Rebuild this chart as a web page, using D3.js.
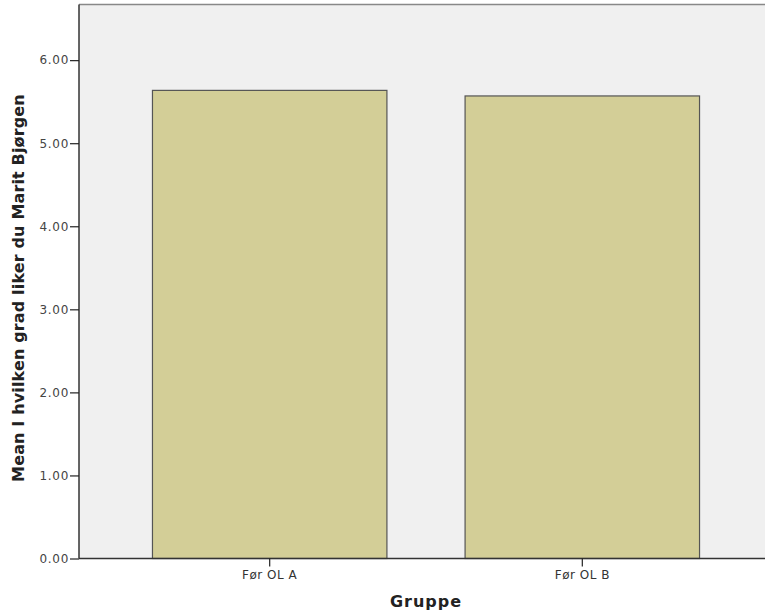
<!DOCTYPE html>
<html><head><meta charset="utf-8">
<script src="https://cdn.jsdelivr.net/npm/d3@7"></script>
<style>body{margin:0;background:#fff;} svg{display:block;}</style>
</head><body>
<svg id="chart" width="765" height="616"></svg>
<script>
const categories = ["Før OL A", "Før OL B"];
const meanValues = [5.636, 5.569];
const yTicks = [0, 1, 2, 3, 4, 5, 6];
const yTitle = "Mean I hvilken grad liker du Marit Bjørgen";
const xTitle = "Gruppe";

(function () {
const svg = d3.select("#chart");
const pL = 79, pR = 773, pT = 4.5, pB = 558.5;
const x = d3.scaleBand().domain(categories).range([pL, pR]).paddingInner(0.25).paddingOuter(0.235);
const y = d3.scaleLinear().domain([0, 6.67]).range([pB, pT]);

svg.append("rect").attr("x", pL).attr("y", pT).attr("width", 765 - pL).attr("height", pB - pT)
  .attr("fill", "#f0f0f0");
svg.append("line").attr("x1", pL).attr("x2", 765).attr("y1", pT).attr("y2", pT)
  .attr("stroke", "#888").attr("stroke-width", 1.5);

svg.selectAll("rect.bar").data(categories).enter().append("rect").attr("class", "bar")
  .attr("x", d => x(d)).attr("width", x.bandwidth())
  .attr("y", (d, i) => y(meanValues[i])).attr("height", (d, i) => y(0) - y(meanValues[i]))
  .attr("fill", "#d3ce97").attr("stroke", "#555").attr("stroke-width", 1.2);

const yAxis = svg.append("g").attr("transform", `translate(${pL},0)`)
  .call(d3.axisLeft(y).tickValues(yTicks).tickFormat(d3.format(".2f")).tickSize(9).tickSizeOuter(0));
yAxis.select(".domain").attr("d", `M0,${pT}V${pB}`).attr("stroke", "#333").attr("stroke-width", 1.5);
yAxis.selectAll(".tick line").attr("stroke", "#222").attr("stroke-width", 1.2);
yAxis.selectAll(".tick text").attr("font-family", "DejaVu Sans, sans-serif").attr("font-size", 12)
  .attr("letter-spacing", 0.7).attr("fill", "#444").attr("x", -10);

const xAxis = svg.append("g").attr("transform", `translate(0,${pB})`)
  .call(d3.axisBottom(x).tickSize(8).tickSizeOuter(0));
xAxis.select(".domain").attr("d", `M${pL},0H765`).attr("stroke", "#333").attr("stroke-width", 1.5);
xAxis.selectAll(".tick line").attr("stroke", "#222").attr("stroke-width", 1.2);
xAxis.selectAll(".tick text").attr("font-family", "DejaVu Sans, sans-serif").attr("font-size", 12)
  .attr("letter-spacing", 0.5).attr("fill", "#333").attr("y", 12);

svg.append("text").attr("x", (pL + pR) / 2).attr("y", 607).attr("text-anchor", "middle")
  .attr("font-family", "DejaVu Sans, sans-serif").attr("font-weight", "bold").attr("font-size", 16)
  .attr("letter-spacing", 1).attr("fill", "#222").text(xTitle);
svg.append("text").attr("transform", "translate(24,288) rotate(-90)").attr("text-anchor", "middle")
  .attr("font-family", "DejaVu Sans, sans-serif").attr("font-weight", "bold").attr("font-size", 16)
  .attr("letter-spacing", 0.15).attr("fill", "#222").text(yTitle);
})();
</script>
</body></html>
